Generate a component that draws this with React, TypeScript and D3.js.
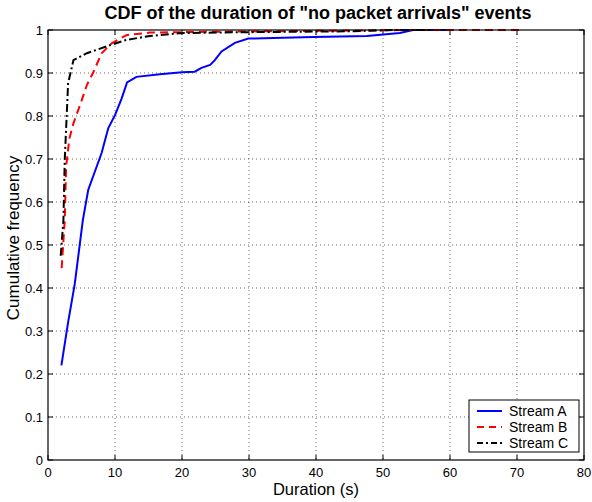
import React from "react";
import * as d3 from "d3";

const xTicks = [0, 10, 20, 30, 40, 50, 60, 70, 80];
const yTicks = [0, 0.1, 0.2, 0.3, 0.4, 0.5, 0.6, 0.7, 0.8, 0.9, 1];

const streamAx = [2, 3, 4, 5.2, 6, 8, 9, 10, 11, 11.8, 13.2, 16.7, 20, 21.9, 22.9, 24.2, 24.9, 25.9, 27.9, 29.9, 39.6, 47.6, 52.5, 54.5, 60];
const streamAy = [0.22, 0.32, 0.41, 0.558, 0.628, 0.714, 0.772, 0.802, 0.841, 0.878, 0.891, 0.897, 0.902, 0.903, 0.912, 0.919, 0.93, 0.95, 0.97, 0.98, 0.984, 0.986, 0.993, 1.0, 1.0];

const streamBx = [2.04, 2.5, 2.7, 3.2, 3.8, 4.8, 5.8, 6.8, 8.0, 9.5, 11.7, 15.2, 25, 40, 55, 70.9];
const streamBy = [0.446, 0.558, 0.682, 0.748, 0.783, 0.826, 0.872, 0.903, 0.946, 0.969, 0.988, 0.994, 0.996, 0.998, 1.0, 1.0];

const streamCx = [1.9, 2.3, 2.5, 3.0, 3.8, 5.8, 9.3, 11.7, 15.2, 20.1, 30, 45, 52, 57];
const streamCy = [0.475, 0.558, 0.698, 0.876, 0.93, 0.946, 0.965, 0.977, 0.986, 0.993, 0.995, 0.997, 1.0, 1.0];

const seriesNames = ["Stream A", "Stream B", "Stream C"];
const seriesColors = ["#0000ff", "#ff0000", "#000000"];
const seriesDash = ["none", "8,5", "8,3,2,3"];

export default function App() {
  const W = 592, H = 502;
  const left = 48, right = 584, top = 30, bottom = 460;
  const x = d3.scaleLinear().domain([0, 80]).range([left, right]);
  const y = d3.scaleLinear().domain([0, 1]).range([bottom, top]);
  const line = d3.line<[number, number]>().x(d => x(d[0])).y(d => y(d[1]));
  const data: [number, number][][] = [
    streamAx.map((v, i) => [v, streamAy[i]]),
    streamBx.map((v, i) => [v, streamBy[i]]),
    streamCx.map((v, i) => [v, streamCy[i]]),
  ];
  const font = "'Liberation Sans', Arial, sans-serif";
  const tl = 5;
  return (
    <svg width={W} height={H} style={{ position: "absolute", left: 0, top: 0, background: "#fff" }} fontFamily={font}>
      <rect x={0} y={0} width={W} height={H} fill="#fff" />
      {/* grid */}
      {xTicks.slice(1, -1).map(t => (
        <line key={"gx" + t} x1={x(t)} x2={x(t)} y1={top} y2={bottom} stroke="#000" strokeWidth={0.6} strokeDasharray="1,3" />
      ))}
      {yTicks.slice(1, -1).map(t => (
        <line key={"gy" + t} x1={left} x2={right} y1={y(t)} y2={y(t)} stroke="#000" strokeWidth={0.6} strokeDasharray="1,3" />
      ))}
      {/* ticks */}
      {xTicks.map(t => (
        <g key={"tx" + t}>
          <line x1={x(t)} x2={x(t)} y1={bottom} y2={bottom - tl} stroke="#000" />
          <line x1={x(t)} x2={x(t)} y1={top} y2={top + tl} stroke="#000" />
          <text x={x(t)} y={bottom + 17} textAnchor="middle" fontSize={13}>{t}</text>
        </g>
      ))}
      {yTicks.map(t => (
        <g key={"ty" + t}>
          <line x1={left} x2={left + tl} y1={y(t)} y2={y(t)} stroke="#000" />
          <line x1={right} x2={right - tl} y1={y(t)} y2={y(t)} stroke="#000" />
          <text x={left - 5} y={y(t) + 4.5} textAnchor="end" fontSize={13}>{d3.format("~g")(t)}</text>
        </g>
      ))}
      {/* lines */}
      {data.map((d, i) => (
        <path key={i} d={line(d) || ""} fill="none" stroke={seriesColors[i]} strokeWidth={2} strokeDasharray={seriesDash[i]} />
      ))}
      <rect x={left} y={top} width={right - left} height={bottom - top} fill="none" stroke="#000" strokeWidth={1.2} />
      {/* legend */}
      <rect x={469} y={400} width={110} height={52} fill="#fff" stroke="#000" strokeWidth={1} />
      {seriesNames.map((n, i) => (
        <g key={n}>
          <line x1={477} x2={502} y1={411 + i * 16} y2={411 + i * 16} stroke={seriesColors[i]} strokeWidth={2} strokeDasharray={seriesDash[i] === "none" ? "none" : i === 1 ? "7,5" : "6,3,2,3"} />
          <text x={509} y={411 + i * 16 + 5} fontSize={14}>{n}</text>
        </g>
      ))}
      {/* labels */}
      <text x={316} y={495} textAnchor="middle" fontSize={16.5}>Duration (s)</text>
      <text transform={`translate(19,238) rotate(-90)`} textAnchor="middle" fontSize={17}>Cumulative frequency</text>
      <text x={318} y={19} textAnchor="middle" fontSize={18} fontWeight="bold">CDF of the duration of "no packet arrivals" events</text>
    </svg>
  );
}
